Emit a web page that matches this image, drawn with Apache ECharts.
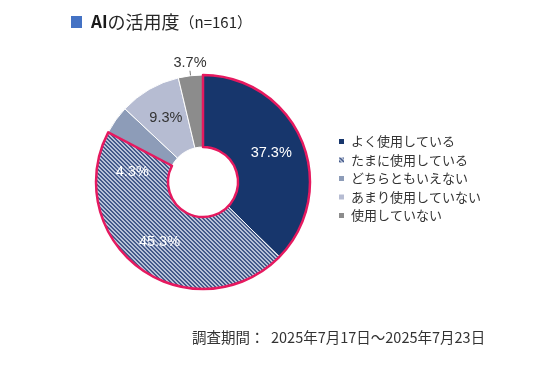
<!DOCTYPE html>
<html><head><meta charset="utf-8">
<script src="https://cdn.jsdelivr.net/npm/echarts@6/dist/echarts.min.js"></script>
<style>html,body{margin:0;padding:0;background:#fff}#c{width:536px;height:377px}</style>
</head><body><div id="c"></div>
<script>
// ---- data ----
const categories = ['よく使用している', 'たまに使用している', 'どちらともいえない', 'あまり使用していない', '使用していない'];
const values = [37.3, 45.3, 4.3, 9.3, 3.7];
const titleParts = ['AI', 'の活用度', '（n=161）'];
const periodLabel = '調査期間：  2025年7月17日～2025年7月23日';
const highlightCount = 2; // first two slices outlined

// ---- styles ----
const sliceColors = ['#17366C', 'HATCH', '#8D9CB8', '#B6BCD2', '#8C8C8C'];
const labelColors = ['#ffffff', '#ffffff', '#ffffff', '#333333', '#333333'];
const outsideLabels = [false, false, true, false, true];
const CX = 203, CY = 182, R0 = 35, R1 = 107;

function makeHatch() {
  const n = 4;
  const c = document.createElement('canvas');
  c.width = n; c.height = n;
  const g = c.getContext('2d');
  g.fillStyle = '#B8C2D8'; g.fillRect(0, 0, n, n);
  g.fillStyle = '#445A8A';
  for (let i = 0; i < n; i++) { g.fillRect(i, i, 1, 1); g.fillRect((i + 1) % n, i, 1, 1); }
  return c;
}
const hatch = { image: makeHatch(), repeat: 'repeat' };

const total = values.reduce((a, b) => a + b, 0);
function midAngle(i) {
  let cum = 0; for (let k = 0; k < i; k++) cum += values[k];
  return (cum + values[i] / 2) / total * Math.PI * 2;
}
function pt(a, r) { return [CX + r * Math.sin(a), CY - r * Math.cos(a)]; }

const mainData = values.map((v, i) => ({
  value: v,
  name: categories[i],
  itemStyle: { color: sliceColors[i] === 'HATCH' ? hatch : sliceColors[i] },
  label: {
    position: outsideLabels[i] ? 'outside' : 'inside',
    color: labelColors[i]
  },
  labelLine: { show: outsideLabels[i] }
}));

const hiSum = values.slice(0, highlightCount).reduce((a, b) => a + b, 0);
const overlayData = [
  { value: hiSum, name: '', itemStyle: { borderColor: '#E6195F', borderWidth: 2.5 } },
  { value: total - hiSum, name: ' ', itemStyle: { borderWidth: 0 } }
];

const chart = echarts.init(document.getElementById('c'), null, { renderer: 'canvas' });
chart.setOption({
  animation: false,
  backgroundColor: '#ffffff',
  title: [
    {
      left: 66, top: 8,
      text: '{sq| }{gap| }{a|' + titleParts[0] + '}{b|' + titleParts[1] + '}{c|' + titleParts[2] + '}',
      textStyle: {
        fontWeight: 'normal',
        rich: {
          sq: { width: 11, height: 12, backgroundColor: '#4472C4' },
          gap: { width: 9 },
          a: { fontSize: 17, fontWeight: 'bold', color: '#1a1a1a', fontFamily: 'Noto Sans CJK JP' },
          b: { fontSize: 18, fontWeight: 'normal', color: '#262626', fontFamily: 'Noto Sans CJK JP' },
          c: { fontSize: 15, fontWeight: 'normal', color: '#262626', fontFamily: 'Noto Sans CJK JP' }
        }
      }
    },
    {
      left: 187, top: 325,
      text: periodLabel,
      textStyle: { fontSize: 14.5, fontWeight: 'normal', color: '#333333', fontFamily: 'Noto Sans CJK JP' }
    }
  ],
  legend: {
    orient: 'vertical',
    left: 332, top: 129,
    icon: 'rect',
    itemWidth: 7, itemHeight: 7,
    itemGap: 3.5,
    data: categories,
    textStyle: { fontSize: 13, color: '#333333', fontFamily: 'Noto Sans CJK JP', lineHeight: 15, padding: [0, 0, 0, 1] }
  },
  series: [
    {
      type: 'pie',
      center: [CX, CY],
      radius: [R0, R1],
      startAngle: 90,
      clockwise: true,
      avoidLabelOverlap: false,
      silent: true,
      itemStyle: { borderColor: '#ffffff', borderWidth: 1 },
      label: {
        show: true,
        formatter: p => p.value.toFixed(1) + '%',
        fontSize: 14.5,
        fontFamily: 'Liberation Sans, Arial, sans-serif'
      },
      labelLine: { show: true, length: 8, length2: 0, lineStyle: { color: '#595959', width: 0.8 } },
      labelLayout: function (p) {
        const i = p.dataIndex;
        if (i === 4) {
          const a = midAngle(4);
          const p0 = pt(a, 100), p1 = pt(a, 112);
          return { x: p1[0], y: p1[1] - 8, align: 'center', verticalAlign: 'middle', labelLinePoints: [p0, p1, p1] };
        }
        if (i === 2) {
          const a = midAngle(2);
          const p0 = pt(a, 73), p1 = pt(a - 18 * Math.PI / 180, 72);
          return { x: p1[0] - 2, y: p1[1] + 12, align: 'center', verticalAlign: 'middle', labelLinePoints: [p0, p1, p1] };
        }
        return {};
      },
      data: mainData
    },
    {
      type: 'pie',
      center: [CX, CY],
      radius: [R0, R1],
      startAngle: 90,
      clockwise: true,
      silent: true,
      label: { show: false },
      labelLine: { show: false },
      itemStyle: { color: 'rgba(0,0,0,0)' },
      data: overlayData
    }
  ]
});
</script>
</body></html>
